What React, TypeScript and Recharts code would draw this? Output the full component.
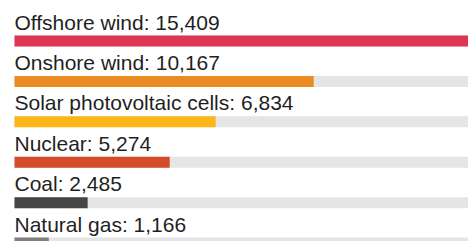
import { Bar, BarChart, Cell, LabelList, XAxis, YAxis } from 'recharts'

const sources = ['Offshore wind', 'Onshore wind', 'Solar photovoltaic cells', 'Nuclear', 'Coal', 'Natural gas']
const jobs = [15409, 10167, 6834, 5274, 2485, 1166]
const colours = ['#dc3654', '#ea8b24', '#fbb618', '#d44c2a', '#434645', '#808080']

const data = sources.map((name, i) => ({ name, jobs: jobs[i] }))

function SourceLabel(props: any) {
  const { x, y, index } = props
  const d = data[index]
  if (!d) return null
  return (
    <text x={x} y={y - 6} fill="#1f1f1f" fontSize={21} fontFamily="'Liberation Sans', Arial, sans-serif">
      {`${d.name}: ${d.jobs.toLocaleString('en-US')}`}
    </text>
  )
}

export default function App() {
  return (
    <div style={{ position: 'absolute', left: 0, top: 0, width: 476, height: 241, overflow: 'hidden', background: '#fff' }}>
      <BarChart
        width={476}
        height={263}
        data={data}
        layout="vertical"
        barSize={11}
        margin={{ top: 20.5, right: 8, left: 14.5, bottom: 0 }}
      >
        <XAxis type="number" hide domain={[0, 'dataMax']} />
        <YAxis type="category" dataKey="name" hide />
        <Bar dataKey="jobs" isAnimationActive={false} background={{ fill: '#e4e5e7' }}>
          {data.map((d, i) => (
            <Cell key={d.name} fill={colours[i]} />
          ))}
          <LabelList dataKey="name" content={SourceLabel} />
        </Bar>
      </BarChart>
    </div>
  )
}
